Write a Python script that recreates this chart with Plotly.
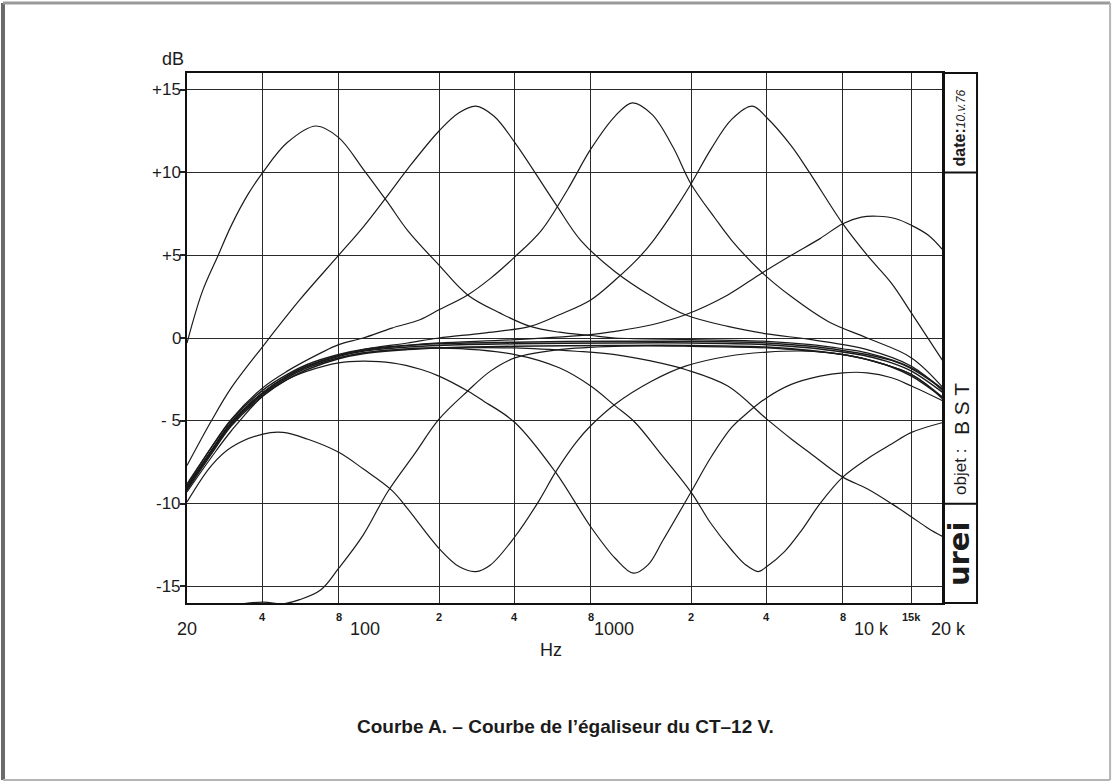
import numpy as np
import plotly.graph_objects as go

# ---- Measured responses of the CT-12 V equaliser (Hz, dB) ----
# flat settings (all sliders centred)
flat_f = [20, 25, 30, 40, 50, 60, 80, 100, 150, 200, 400, 1000, 2000, 4000, 6000, 8000, 10000, 12500, 15000, 20000]
flat_a_db = [-9.0, -6.8, -5.1, -3.3, -2.3, -1.7, -1.1, -0.8, -0.55, -0.45, -0.35, -0.3, -0.3, -0.4, -0.6, -0.85, -1.1, -1.5, -2.0, -3.3]
flat_b_db = [-9.2, -7.0, -5.3, -3.5, -2.5, -1.9, -1.25, -0.95, -0.7, -0.6, -0.5, -0.45, -0.45, -0.55, -0.75, -1.0, -1.3, -1.75, -2.3, -3.6]
flat_c_db = [-8.9, -6.6, -4.95, -3.15, -2.2, -1.6, -1.0, -0.7, -0.45, -0.35, -0.25, -0.2, -0.2, -0.3, -0.5, -0.75, -1.0, -1.35, -1.85, -3.1]

# band 1 (about 63 Hz)
b1_f = [20, 23, 26.6, 30, 35, 40, 50, 65, 80, 100, 125, 150, 200, 260, 350, 460, 600, 800, 1000, 2000, 4000, 6000, 8000, 10000, 15000, 20000]
b1_boost = [-0.3, 2.8, 5.0, 6.8, 8.7, 10.0, 11.8, 12.8, 12.1, 10.2, 8.2, 6.5, 4.4, 2.6, 1.5, 0.7, 0.35, 0.15, 0.0, -0.1, -0.2, -0.4, -0.65, -0.9, -1.8, -3.1]
c1_f = [20, 25, 30, 40, 48, 56, 68, 80, 100, 125, 160, 200, 260, 320, 400, 600, 1000, 2000, 4000, 6000, 8000, 10000, 15000, 20000]
c1_cut = [-18.0, -16.8, -16.2, -15.95, -16.05, -15.8, -15.2, -13.9, -11.9, -9.3, -7.0, -4.9, -3.2, -2.0, -1.2, -0.7, -0.5, -0.5, -0.6, -0.8, -1.0, -1.3, -2.2, -3.6]

# band 2 (about 280 Hz)
b2_f = [20, 25, 30, 40, 56, 80, 100, 125, 150, 200, 240, 280, 330, 400, 580, 730, 1000, 1400, 1900, 2800, 4000, 6000, 10000, 15000, 20000]
b2_boost = [-7.7, -5.0, -3.0, -0.5, 2.3, 5.0, 6.7, 8.6, 10.2, 12.5, 13.6, 14.0, 13.4, 11.8, 8.1, 5.9, 4.0, 2.5, 1.4, 0.7, 0.25, -0.1, -0.7, -1.7, -3.2]
c2_f = [20, 25, 30, 40, 48, 60, 80, 100, 130, 150, 200, 240, 280, 320, 400, 500, 580, 700, 800, 1000, 1400, 1900, 2800, 4000, 6000, 8000, 10000, 15000, 20000]
c2_cut = [-9.9, -7.7, -6.6, -5.8, -5.7, -6.1, -6.9, -7.9, -9.2, -10.3, -12.7, -13.8, -14.1, -13.7, -12.0, -9.8, -8.1, -6.3, -5.3, -4.0, -2.6, -1.7, -1.1, -0.85, -0.8, -1.0, -1.3, -2.2, -3.7]

# band 3 (about 1.2 kHz)
b3_f = [20, 25, 30, 40, 50, 68, 80, 100, 130, 168, 200, 260, 320, 400, 510, 650, 800, 1000, 1170, 1400, 1700, 2000, 2500, 2900, 3800, 5000, 7000, 10000, 15000, 20000]
b3_boost = [-8.8, -6.6, -4.9, -3.0, -2.0, -0.9, -0.4, 0.0, 0.6, 1.1, 1.7, 2.6, 3.6, 4.9, 6.5, 9.0, 11.4, 13.4, 14.2, 13.5, 11.5, 9.3, 7.2, 5.9, 4.0, 2.5, 1.0, 0.0, -1.2, -3.0]
c3_f = [20, 25, 30, 40, 50, 60, 80, 100, 130, 170, 200, 260, 300, 400, 580, 800, 1000, 1180, 1350, 1550, 2000, 2400, 2900, 3300, 4000, 5000, 6500, 8000, 10000, 12500, 15000, 20000]
c3_cut = [-9.3, -7.2, -5.6, -3.5, -2.5, -2.0, -1.5, -1.4, -1.5, -1.9, -2.3, -3.2, -3.8, -5.1, -8.1, -11.4, -13.3, -14.2, -13.7, -12.2, -9.3, -7.2, -5.4, -4.6, -3.6, -2.8, -2.3, -2.1, -2.1, -2.4, -2.9, -3.8]

# band 4 (about 3.6 kHz)
b4_f = [20, 25, 30, 40, 50, 60, 80, 100, 150, 200, 300, 460, 600, 800, 1000, 1250, 1420, 1700, 2000, 2400, 2900, 3500, 4000, 5000, 5900, 8000, 10000, 12500, 15000, 20000]
b4_boost = [-9.0, -6.8, -5.1, -3.3, -2.3, -1.7, -1.1, -0.7, -0.3, 0.0, 0.3, 0.7, 1.4, 2.3, 3.5, 4.9, 5.9, 7.6, 9.3, 11.4, 13.2, 14.0, 13.3, 11.6, 10.0, 6.9, 5.0, 3.3, 1.5, -1.4]
c4_f = [20, 25, 30, 40, 50, 60, 80, 100, 150, 200, 400, 600, 800, 1000, 1200, 1500, 2000, 2400, 2900, 3300, 3700, 4000, 4700, 5500, 6500, 8000, 10000, 12500, 15000, 20000]
c4_cut = [-9.1, -6.9, -5.2, -3.4, -2.4, -1.8, -1.2, -0.9, -0.65, -0.6, -1.0, -1.8, -2.9, -4.1, -5.1, -6.9, -9.3, -11.2, -12.8, -13.7, -14.1, -13.8, -12.9, -11.6, -10.0, -8.4, -7.3, -6.4, -5.7, -5.1]

# band 5 (about 11 kHz)
b5_f = [20, 25, 30, 40, 50, 60, 80, 100, 150, 200, 400, 800, 1000, 1400, 1900, 2800, 3800, 5000, 6500, 8000, 9500, 11000, 13000, 15000, 17500, 20000]
b5_boost = [-9.0, -6.8, -5.1, -3.3, -2.3, -1.7, -1.05, -0.75, -0.45, -0.3, -0.1, 0.2, 0.4, 0.8, 1.4, 2.6, 3.9, 5.0, 6.0, 6.9, 7.3, 7.35, 7.2, 6.8, 6.2, 5.3]
c5_f = [20, 25, 30, 40, 50, 60, 80, 100, 150, 200, 400, 700, 1000, 1400, 1900, 2800, 4000, 5000, 6000, 8000, 10000, 12500, 15000, 17500, 20000]
c5_cut = [-9.1, -6.9, -5.2, -3.4, -2.4, -1.8, -1.2, -0.9, -0.65, -0.6, -0.6, -0.8, -1.0, -1.4, -1.9, -2.9, -4.9, -6.1, -7.0, -8.4, -9.1, -10.0, -10.8, -11.5, -12.0]

# ---- grid and labels ----
grid_f = [40, 80, 200, 400, 800, 2000, 4000, 8000, 15000]
decade_f = [100, 1000, 10000]
db_grid = [-15, -10, -5, 0, 5, 10, 15]
db_labels = ["-15", "-10", "- 5", "0", "+5", "+10", "+15"]
small_f = [40, 80, 200, 400, 800, 2000, 4000, 8000, 15000]
small_labels = ["4", "8", "2", "4", "8", "2", "4", "8", "15k"]
big_f = [20, 100, 1000, 10000, 20000]
big_labels = ["20", "100", "1000", "10 k", "20 k"]

FONT = "Liberation Sans, Arial, Helvetica, sans-serif"
INK = "#1b1b1b"

fig = go.Figure()

flat_sets = [flat_a_db, flat_b_db, flat_c_db]
for db in flat_sets:
    fig.add_trace(go.Scatter(x=flat_f, y=db, mode="lines",
                             line=dict(color=INK, width=1.5, shape="spline", smoothing=1.0),
                             showlegend=False, hoverinfo="skip"))

curves = [(b1_f, b1_boost), (c1_f, c1_cut), (b2_f, b2_boost), (c2_f, c2_cut),
          (b3_f, b3_boost), (c3_f, c3_cut), (b4_f, b4_boost), (c4_f, c4_cut),
          (b5_f, b5_boost), (c5_f, c5_cut)]
for f, db in curves:
    fig.add_trace(go.Scatter(x=f, y=db, mode="lines",
                             line=dict(color=INK, width=1.2, shape="spline", smoothing=1.0),
                             showlegend=False, hoverinfo="skip"))

shapes = []
# heavier decade lines
for f in decade_f:
    shapes.append(dict(type="line", xref="x", yref="paper", x0=np.log10(f), x1=np.log10(f),
                       y0=0, y1=1, line=dict(color="#111", width=2.2), layer="below"))

# side panel: date / objet / logo boxes
px0, px1 = 1.0, 1.045
shapes.append(dict(type="rect", xref="paper", yref="paper", x0=px0, x1=px1, y0=0, y1=1,
                   line=dict(color="#111", width=2)))
for yv in (10, -10):
    shapes.append(dict(type="line", xref="paper", yref="y", x0=px0, x1=px1, y0=yv, y1=yv,
                       line=dict(color="#111", width=2)))

# page frame
shapes.append(dict(type="line", xref="paper", yref="paper", x0=-0.2434, x1=-0.2434, y0=-0.334, y1=1.132,
                   line=dict(color="#6a6a6a", width=4)))
shapes.append(dict(type="line", xref="paper", yref="paper", x0=-0.2434, x1=1.221, y0=1.132, y1=1.132,
                   line=dict(color="#9a9a9a", width=3)))
shapes.append(dict(type="line", xref="paper", yref="paper", x0=1.221, x1=1.221, y0=-0.334, y1=1.132,
                   line=dict(color="#b5b5b5", width=2)))
shapes.append(dict(type="line", xref="paper", yref="paper", x0=-0.2434, x1=1.221, y0=-0.334, y1=-0.334,
                   line=dict(color="#b5b5b5", width=2)))

ann = []
for v, t in zip(db_grid, db_labels):
    ann.append(dict(xref="paper", yref="y", x=0, y=v, xshift=-4, xanchor="right", yanchor="middle",
                    text=t, showarrow=False, font=dict(family=FONT, size=17, color=INK)))
ann.append(dict(xref="paper", yref="paper", x=0, y=1, xshift=-14, yshift=14, xanchor="center",
                yanchor="middle", text="dB", showarrow=False, font=dict(family=FONT, size=18, color=INK)))

for f, t in zip(small_f, small_labels):
    ann.append(dict(xref="x", yref="paper", x=np.log10(f), y=0, yshift=-14, xanchor="center",
                    yanchor="middle", text="<b>%s</b>" % t, showarrow=False,
                    font=dict(family=FONT, size=11, color=INK)))
big_shift = {"20": 0, "100": 2, "1000": -1, "10 k": 4, "20 k": 5}
for f, t in zip(big_f, big_labels):
    ann.append(dict(xref="x", yref="paper", x=np.log10(f), y=0, yshift=-26, xshift=big_shift[t],
                    xanchor="center", yanchor="middle", text=t, showarrow=False,
                    font=dict(family=FONT, size=18, color=INK)))
ann.append(dict(xref="paper", yref="paper", x=0.4815, y=0, yshift=-47, xanchor="center", yanchor="middle",
                text="Hz", showarrow=False, font=dict(family=FONT, size=18, color=INK)))

# side panel texts
ann.append(dict(xref="paper", yref="y", x=1.0222, y=12.7, textangle=-90, xanchor="center", yanchor="middle",
                text="<b>date:</b><i><span style='font-size:12px'>10.v.76</span></i>", showarrow=False,
                font=dict(family=FONT, size=16, color=INK)))
ann.append(dict(xref="paper", yref="y", x=1.0235, y=-4.3, textangle=-90, xanchor="center", yanchor="middle",
                text="B S T", showarrow=False, font=dict(family=FONT, size=21, color=INK)))
ann.append(dict(xref="paper", yref="y", x=1.0222, y=-8.1, textangle=-90, xanchor="center", yanchor="middle",
                text="objet :", showarrow=False, font=dict(family=FONT, size=17, color=INK)))
ann.append(dict(xref="paper", yref="y", x=1.0222, y=-13.0, textangle=-90, xanchor="center", yanchor="middle",
                text="<b>urei</b>", showarrow=False, font=dict(family="DejaVu Sans, sans-serif", size=29, color=INK)))

# caption
ann.append(dict(xref="paper", yref="paper", x=0.5, y=0, yshift=-123, xanchor="center", yanchor="middle",
                text="<b>Courbe A. – Courbe de l’égaliseur du CT–12 V.</b>", showarrow=False,
                font=dict(family=FONT, size=19, color=INK)))

fig.update_layout(
    width=1114, height=783,
    margin=dict(l=187, r=171, t=73, b=180),
    paper_bgcolor="white", plot_bgcolor="white",
    shapes=shapes, annotations=ann,
    xaxis=dict(type="log", range=[np.log10(20), np.log10(20000)], tickvals=grid_f,
               showticklabels=False, ticks="", showgrid=True, gridcolor="#2a2a2a", gridwidth=1.2,
               showline=True, mirror=True, linecolor="#111", linewidth=2, zeroline=False),
    yaxis=dict(range=[-16, 16], tickvals=db_grid, showticklabels=False, ticks="outside",
               ticklen=5, tickwidth=1.5, tickcolor="#222", showgrid=True, gridcolor="#2a2a2a",
               gridwidth=1.3, showline=True, mirror=True, linecolor="#111", linewidth=2, zeroline=False),
)

fig.write_html("out.html")
